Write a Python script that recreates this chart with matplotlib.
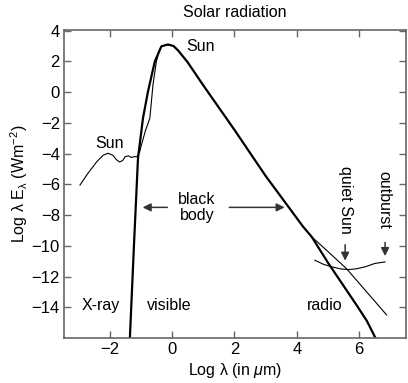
import matplotlib
matplotlib.use("Agg")
import matplotlib.pyplot as plt

plt.rcParams['font.family'] = ['Liberation Sans', 'DejaVu Sans']
plt.rcParams['mathtext.fontset'] = 'custom'
plt.rcParams['mathtext.rm'] = 'Liberation Sans'
plt.rcParams['mathtext.it'] = 'Liberation Sans:italic'

# black body curve (thick)
bb_x = [-1.35, -1.22, -1.09, -0.93, -0.77, -0.55, -0.34, -0.13, 0.05, 0.2, 0.5, 1.0, 2.0, 3.0, 4.2, 4.48, 5.0, 5.92, 6.25, 6.56]
bb_y = [-16.0, -10.0, -4.3, -1.7, 0.04, 2.0, 2.98, 3.1, 3.0, 2.7, 1.95, 0.45, -2.45, -5.45, -8.75, -9.42, -11.1, -13.87, -14.9, -16.15]

# observed Sun (thin) - x-ray / uv part
sun_x = [-2.95, -2.7, -2.4, -2.2, -2.05, -1.9, -1.78, -1.68, -1.58, -1.5, -1.4, -1.3, -1.2, -1.12, -1.04, -0.98, -0.85, -0.71, -0.61, -0.5, -0.42, -0.34, -0.13, 0.05, 0.2]
sun_y = [-6.05, -5.3, -4.5, -4.1, -3.98, -4.1, -4.4, -4.55, -4.45, -4.2, -4.15, -4.25, -4.2, -4.2, -3.9, -3.44, -2.5, -1.7, 0.47, 2.0, 2.6, 2.98, 3.1, 3.0, 2.7]

# quiet Sun radio branch
quiet_x = [4.48, 4.96, 5.6, 6.88]
quiet_y = [-9.42, -10.3, -11.5, -14.5]

# outburst radio branch
burst_x = [4.58, 4.85, 5.12, 5.4, 5.65, 5.9, 6.19, 6.5, 6.83]
burst_y = [-10.94, -11.2, -11.37, -11.5, -11.55, -11.5, -11.37, -11.15, -11.05]

fs = 11.5

fig = plt.figure(figsize=(4.08, 3.83), dpi=100)
ax = fig.add_axes([0.157, 0.1175, 0.838, 0.8045])

ax.plot(bb_x, bb_y, color='black', lw=1.6)
ax.plot(sun_x, sun_y, color='black', lw=0.8)
ax.plot(quiet_x, quiet_y, color='black', lw=0.8)
ax.plot(burst_x, burst_y, color='black', lw=0.8)

ax.set_xlim(-3.46, 7.5)
ax.set_ylim(-16, 4.05)
ax.set_xticks([-2, 0, 2, 4, 6])
ax.set_yticks(range(-14, 5, 2))
ax.tick_params(direction='in', top=True, right=True, length=5, width=1,
               color='#666666', labelsize=12, pad=3)
for s in ax.spines.values():
    s.set_color('#666666')
    s.set_linewidth(1.2)

ax.set_title('Solar radiation', fontsize=fs, pad=9)
ax.set_xlabel(r'Log λ (in $\mathit{\mu}$m)', fontsize=fs, labelpad=3)
ax.set_ylabel(r'Log λ E$_{\mathrm{\lambda}}$ (Wm$^{-2}$)', fontsize=fs, labelpad=1)

ax.text(0.9, 2.98, 'Sun', fontsize=fs, ha='center', va='center')
ax.text(-2.0, -3.33, 'Sun', fontsize=fs, ha='center', va='center')
ax.text(0.8, -7.5, 'black\nbody', fontsize=fs, ha='center', va='center', linespacing=1.1)
ax.text(-2.28, -13.87, 'X-ray', fontsize=fs, ha='center', va='center')
ax.text(-0.08, -13.87, 'visible', fontsize=fs, ha='center', va='center')
ax.text(4.9, -13.87, 'radio', fontsize=fs, ha='center', va='center')
ax.text(5.55, -7.0, 'quiet Sun', fontsize=fs, ha='center', va='center', rotation=270)
ax.text(6.8, -7.0, 'outburst', fontsize=fs, ha='center', va='center', rotation=270)

arr = dict(arrowstyle='-|>', color='#333333', lw=1.1, mutation_scale=12)
ax.annotate('', xy=(-1.03, -7.5), xytext=(-0.06, -7.5), arrowprops=arr)
ax.annotate('', xy=(3.7, -7.5), xytext=(1.75, -7.5), arrowprops=arr)
ax.annotate('', xy=(5.55, -11.15), xytext=(5.55, -9.75), arrowprops=arr)
ax.annotate('', xy=(6.83, -10.85), xytext=(6.83, -9.6), arrowprops=arr)

fig.savefig('out.png', dpi=100)
